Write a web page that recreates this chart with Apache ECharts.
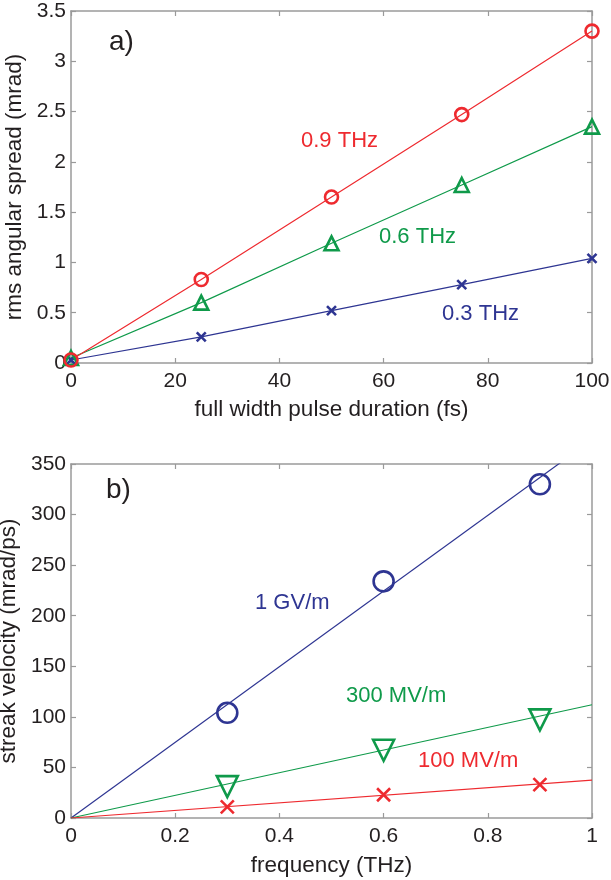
<!DOCTYPE html>
<html><head><meta charset="utf-8">
<script src="https://cdn.jsdelivr.net/npm/echarts@6/dist/echarts.min.js"></script>
<style>html,body{margin:0;padding:0;background:#fff}#c{width:611px;height:880px}</style>
</head><body><div id="c"></div>
<script>
// ---- Panel a) data ----
const durations = [0, 25, 50, 75, 100];
const spread09 = [0.03, 0.83, 1.65, 2.47, 3.30];
const spread06 = [0.05, 0.60, 1.19, 1.77, 2.35];
const spread03 = [0.03, 0.26, 0.52, 0.78, 1.04];
// ---- Panel b) data ----
const freqs = [0.3, 0.6, 0.9];
const v1GV = [104, 234, 330];
const v300MV = [31, 67, 97];
const v100MV = [11, 23, 33];
const fitX = [0, 1];
const fit1GV = [0, 374];
const fit300MV = [0, 112];
const fit100MV = [0, 37.5];

const RED = '#ee2a2f', GREEN = '#0f9a4a', BLUE = '#2e3592';
const FONT = '"Liberation Sans", Arial, sans-serif';
const TXT = '#231f20';
const BOX = '#9a9a9a';
const XPATH = 'path://M0,0L10,10M10,0L0,10';

function pairs(xs, ys){ return xs.map((x,i)=>[x, ys[i]]); }

function axisPair(common, isX, gridIndex, name, nameGap){
  const main = Object.assign({
    type:'value', gridIndex, name, nameLocation:'middle', nameGap,
    nameTextStyle:{color:TXT, fontSize:22.5, fontFamily:FONT},
    axisLine:{show:true, onZero:false, lineStyle:{color:BOX, width:1.5}},
    axisTick:{show:true, inside:true, length:5, lineStyle:{color:BOX, width:1.2}},
    axisLabel:{color:TXT, fontSize:21, fontFamily:FONT, margin: isX?8:5},
    splitLine:{show:false}
  }, common);
  const opp = Object.assign({
    type:'value', gridIndex, position: isX?'top':'right',
    axisLine:{show:true, onZero:false, lineStyle:{color:BOX, width:1.5}},
    axisTick:{show:true, inside:true, length:5, lineStyle:{color:BOX, width:1.2}},
    axisLabel:{show:false}, splitLine:{show:false}
  }, common);
  return [main, opp];
}

const xa = axisPair({min:0,max:100,interval:20}, true, 0, 'full width pulse duration (fs)', 35);
const ya = axisPair({min:0,max:3.5,interval:0.5}, false, 0, 'rms angular spread (mrad)', 44);
const xb = axisPair({min:0,max:1,interval:0.2}, true, 1, 'frequency (THz)', 36);
const yb = axisPair({min:0,max:350,interval:50}, false, 1, 'streak velocity (mrad/ps)', 44);

function markerSeries(xi, yi, data, color, symbol, size, rotate, lineOn){
  return {
    type:'line', xAxisIndex:xi, yAxisIndex:yi, data,
    symbol, symbolSize:size, symbolRotate:rotate||0, showAllSymbol:true,
    lineStyle: lineOn ? {color, width:1.2} : {opacity:0, width:0},
    itemStyle:{color:'none', borderColor:color, borderWidth:2.6},
    emphasis:{disabled:true}, animation:false, z: 3
  };
}
function fitSeries(xi, yi, data, color){
  return {type:'line', xAxisIndex:xi, yAxisIndex:yi, data, symbol:'none',
    lineStyle:{color, width:1.2}, clip:true, animation:false, z:2};
}

const option = {
  backgroundColor:'#fff',
  animation:false,
  grid:[
    {left:71, right:19, top:11, height:352, containLabel:false, outerBoundsMode:'none'},
    {left:71, right:19, top:464, height:354, containLabel:false, outerBoundsMode:'none'}
  ],
  xAxis:[xa[0], xa[1], xb[0], xb[1]],
  yAxis:[ya[0], ya[1], yb[0], yb[1]],
  series:[
    markerSeries(0,0,pairs(durations,spread03),BLUE,XPATH,9,0,true),
    markerSeries(0,0,pairs(durations,spread06),GREEN,'triangle',14,0,true),
    markerSeries(0,0,pairs(durations,spread09),RED,'circle',13,0,true),
    fitSeries(2,2,pairs(fitX,fit1GV),BLUE),
    fitSeries(2,2,pairs(fitX,fit300MV),GREEN),
    fitSeries(2,2,pairs(fitX,fit100MV),RED),
    markerSeries(2,2,pairs(freqs,v1GV),BLUE,'circle',20,0,false),
    markerSeries(2,2,pairs(freqs,v300MV),GREEN,'triangle',21,180,false),
    markerSeries(2,2,pairs(freqs,v100MV),RED,XPATH,13,0,false)
  ],
  graphic:[
    {type:'text', left:109, top:28, style:{text:'a)', fill:TXT, font:'28px '+FONT}},
    {type:'text', left:301, top:130, style:{text:'0.9 THz', fill:RED, font:'22px '+FONT}},
    {type:'text', left:379, top:226, style:{text:'0.6 THz', fill:GREEN, font:'22px '+FONT}},
    {type:'text', left:442, top:303, style:{text:'0.3 THz', fill:BLUE, font:'22px '+FONT}},
    {type:'text', left:106, top:476, style:{text:'b)', fill:TXT, font:'28px '+FONT}},
    {type:'text', left:255, top:592, style:{text:'1 GV/m', fill:BLUE, font:'22px '+FONT}},
    {type:'text', left:346, top:685, style:{text:'300 MV/m', fill:GREEN, font:'22px '+FONT}},
    {type:'text', left:418, top:750, style:{text:'100 MV/m', fill:RED, font:'22px '+FONT}}
  ]
};
const chart = echarts.init(document.getElementById('c'), null, {renderer:'canvas'});
chart.setOption(option);
</script>
</body></html>
